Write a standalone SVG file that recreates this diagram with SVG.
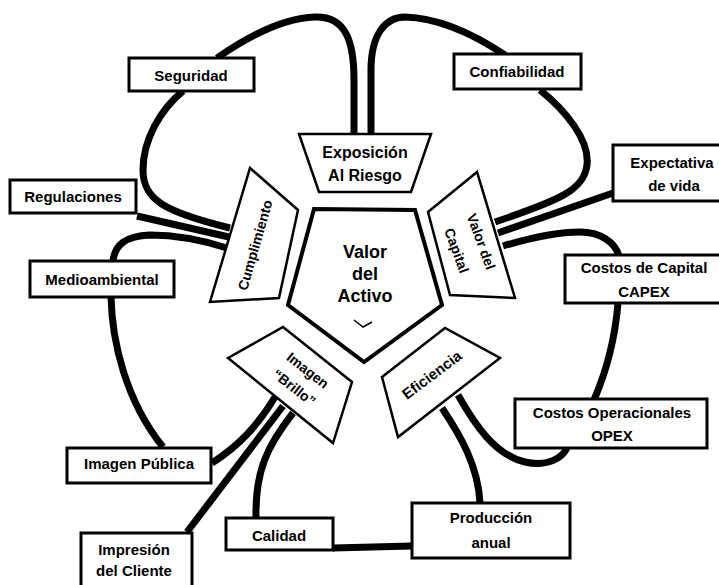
<svg xmlns="http://www.w3.org/2000/svg" width="719" height="585" viewBox="0 0 719 585">
<style>
text{font-family:"Liberation Sans",Arial,sans-serif;font-weight:bold;fill:#000;text-anchor:middle}
.lbl{font-size:15px}
.box{fill:#fff;stroke:#000;stroke-width:3}
.trap{fill:#fff;stroke:#000;stroke-width:2.5;stroke-linejoin:miter}
.con{fill:none;stroke:#000;stroke-width:7}
</style>
<rect width="719" height="585" fill="#fff"/>
<g id="connectors">
<path class="con" d="M 217,58 C 250,35 285,18 315,17 C 345,16 354,40 354,80 L 354,134"/>
<path class="con" d="M 371,134 L 371,70 C 371,35 385,17 405,17 C 440,18 475,35 505,55"/>
<path class="con" d="M 183,91 C 160,110 143,140 143,170 C 143,200 165,212 230,228"/>
<path class="con" d="M 137,216 L 229,237"/>
<path class="con" d="M 113,261 C 115,245 125,236 150,235 C 180,235 205,241 227,248"/>
<path class="con" d="M 540,90 C 565,110 590,140 587,165 C 584,190 560,200 495,222"/>
<path class="con" d="M 613,193 L 498,233"/>
<path class="con" d="M 503,246 C 530,238 555,232 580,232 C 600,232 615,242 619,256"/>
<path class="con" d="M 618,303 C 615,340 606,372 594,400"/>
<path class="con" d="M 458,395 C 475,425 495,455 525,462 C 548,467 562,458 567,448"/>
<path class="con" d="M 442,408 C 460,435 478,465 480,503"/>
<path class="con" d="M 333,548 L 412,546"/>
<path class="con" d="M 275,397 C 258,425 240,445 212,463"/>
<path class="con" d="M 283,406 L 187,532"/>
<path class="con" d="M 293,413 C 268,445 255,470 256,518"/>
<path class="con" d="M 111,297 C 112,340 125,400 163,447"/>
</g>
<g id="valor-activo">
<polygon points="314,209 415,210 442,305 364,362 288,305" fill="#fff" stroke="#000" stroke-width="4" stroke-linejoin="miter"/>
<text x="365" y="258" font-size="18">Valor</text>
<text x="365" y="280" font-size="18">del</text>
<text x="365" y="302" font-size="18">Activo</text>
<polyline points="354,320 363,327 372,322" fill="none" stroke="#000" stroke-width="1.5"/>
</g>
<g id="exposicion">
<polygon class="trap" points="299,134 431,134 411,192 319,192" fill="#f3f3f3" stroke-width="3"/>
<text x="365" y="158" font-size="16">Exposición</text>
<text x="365" y="181" font-size="16">Al Riesgo</text>
</g>
<g id="cumplimiento">
<polygon class="trap" points="250,168 298,210 279,298 210,302"/>
<text transform="translate(255,245) rotate(-74)" x="0" y="5" font-size="14">Cumplimiento</text>
</g>
<g id="valor-capital">
<polygon class="trap" points="477,172 428,212 450,295 515,298"/>
<g transform="translate(469,246) rotate(70)">
<text x="0" y="-8" font-size="14">Valor  del</text>
<text x="0" y="18" font-size="14">Capital</text>
</g>
</g>
<g id="imagen-brillo">
<polygon class="trap" points="228,358 283,327 352,382 333,443"/>
<g transform="translate(301,379) rotate(38)">
<text x="0" y="-6" font-size="14">Imagen</text>
<text x="0" y="16" font-size="14">“Brillo”</text>
</g>
</g>
<g id="eficiencia">
<polygon class="trap" points="382,377 445,328 500,358 398,437"/>
<text transform="translate(432,375) rotate(-37)" x="0" y="5" font-size="15">Eficiencia</text>
</g>
<g id="seguridad">
<rect class="box" x="129" y="58" width="125" height="33"/>
<text class="lbl" x="191" y="81">Seguridad</text>
</g>
<g id="confiabilidad">
<rect class="box" x="454" y="54" width="127" height="35"/>
<text class="lbl" x="517" y="77">Confiabilidad</text>
</g>
<g id="regulaciones">
<rect class="box" x="10" y="180" width="126" height="33" stroke-width="1.5"/>
<text class="lbl" x="73" y="202">Regulaciones</text>
</g>
<g id="medioambiental">
<rect class="box" x="30" y="261" width="144" height="36"/>
<text class="lbl" x="102" y="285">Medioambiental</text>
</g>
<g id="expectativa">
<rect class="box" x="613" y="145" width="112" height="56" stroke-width="2"/>
<text class="lbl" x="672" y="168">Expectativa</text>
<text class="lbl" x="674" y="191">de vida</text>
</g>
<g id="capex">
<rect class="box" x="565" y="255" width="160" height="48" stroke-width="2"/>
<text class="lbl" x="644" y="273">Costos de Capital</text>
<text class="lbl" x="644" y="297">CAPEX</text>
</g>
<g id="opex">
<rect class="box" x="515" y="399" width="192" height="49"/>
<text class="lbl" x="612" y="418">Costos Operacionales</text>
<text class="lbl" x="612" y="441">OPEX</text>
</g>
<g id="produccion">
<rect class="box" x="412" y="503" width="158" height="55"/>
<text class="lbl" x="491" y="523">Producción</text>
<text class="lbl" x="491" y="548">anual</text>
</g>
<g id="calidad">
<rect class="box" x="226" y="518" width="107" height="32"/>
<text class="lbl" x="279" y="541">Calidad</text>
</g>
<g id="impresion">
<rect class="box" x="81" y="533" width="111" height="60"/>
<text class="lbl" x="134" y="555">Impresión</text>
<text class="lbl" x="134" y="576">del Cliente</text>
</g>
<g id="imagen-publica">
<rect class="box" x="67" y="448" width="144" height="35"/>
<text class="lbl" x="139" y="469">Imagen Pública</text>
</g>
</svg>
